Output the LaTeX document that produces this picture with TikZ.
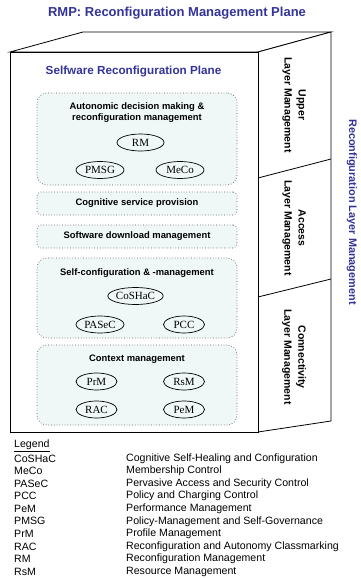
\documentclass[tikz,border=0pt]{standalone}
\usepackage{fontspec}
\setmainfont{Liberation Serif}
\setsansfont{Liberation Sans}
\usetikzlibrary{shapes.geometric}
\definecolor{rmpblue}{RGB}{51,51,153}
\definecolor{boxfill}{RGB}{239,247,247}

\begin{document}
\begin{tikzpicture}[x=1pt,y=-1pt]
  \tikzstyle{cube}=[draw,line width=0.8pt,fill=white]
  \tikzstyle{group}=[draw=black!65,dotted,line width=0.7pt,fill=boxfill,rounded corners=10pt,minimum width=200pt,inner sep=0pt]
  \tikzstyle{bar}=[group,rounded corners=4pt,minimum height=23pt,font=\sffamily\bfseries\fontsize{9.4}{11}\selectfont]
  \tikzstyle{grouptitle}=[align=center,inner sep=0pt,font=\sffamily\bfseries\fontsize{9.4}{11}\selectfont]
  \tikzstyle{module}=[ellipse,draw,line width=0.7pt,inner sep=0pt,minimum width=41pt,minimum height=17pt,font=\fontsize{11}{11}\selectfont]
  \tikzstyle{layer}=[rotate=-90,align=center,inner sep=0pt,font=\sffamily\bfseries\fontsize{10.5}{14}\selectfont]
  \tikzstyle{legend}=[anchor=west,inner sep=0pt,font=\sffamily\fontsize{10.6}{12}\selectfont]
  \useasboundingbox (0,0) rectangle (361,578);

  % the plane as a box
  \draw[cube] (10,52) -- (83,32) -- (331,32) -- (258,52) -- cycle;
  \draw[cube] (258,52) -- (331,32) -- (331,421) -- (258,432) -- cycle;
  \draw[cube] (10,52) rectangle (258,432);
  \draw[line width=0.8pt] (258,178) -- (331,159);
  \draw[line width=0.8pt] (258,297) -- (331,279);

  \node[text=rmpblue,font=\sffamily\bfseries\fontsize{13}{15}\selectfont] (rmp) at (177,13) {RMP: Reconfiguration Management Plane};
  \node[text=rmpblue,font=\sffamily\bfseries\fontsize{11.7}{14}\selectfont] (srp) at (133.5,72) {Selfware Reconfiguration Plane};

  % functional groups
  \node[group,minimum height=92pt] (adm) at (137,139) {};
  \node[grouptitle] (admtitle) at (137,112.5) {Autonomic decision making \&\\reconfiguration management};
  \node[module,minimum width=47pt] (rm) at (140.5,142.5) {RM};
  \node[module,minimum width=48pt] (pmsg) at (100,170) {PMSG};
  \node[module,minimum width=48pt] (meco) at (180,170) {MeCo};

  \node[bar] (csp) at (137,203.5) {Cognitive service provision};
  \node[bar] (sdm) at (137,236.5) {Software download management};

  \node[group,minimum height=80pt] (scm) at (137,298) {};
  \node[grouptitle] (scmtitle) at (137,273) {Self-configuration \& -management};
  \node[module,minimum width=55pt] (coshac) at (135.5,296) {CoSHaC};
  \node[module,minimum width=48pt] (pasec) at (100,324.5) {PASeC};
  \node[module] (pcc) at (184,324.5) {PCC};

  \node[group,minimum height=80pt] (cm) at (137,385) {};
  \node[grouptitle] (cmtitle) at (137,359) {Context management};
  \node[module] (prm) at (96.5,381.5) {PrM};
  \node[module] (rsm) at (184,381.5) {RsM};
  \node[module] (rac) at (96.5,409.5) {RAC};
  \node[module] (pem) at (184,409.5) {PeM};

  % layers on the side
  \node[layer] (upper) at (294,105) {Upper\\Layer Management};
  \node[layer] (access) at (294,228) {Access\\Layer Management};
  \node[layer] (conn) at (294,357) {Connectivity\\Layer Management};
  \node[rotate=-90,text=rmpblue,font=\sffamily\bfseries\fontsize{10.9}{13}\selectfont] (rlm) at (352,212) {Reconfiguration Layer Management};

  % legend
  \node[legend] (legend) at (14,446) {\underline{Legend}};
  \foreach \abbr/\full [count=\i] in {CoSHaC/Cognitive Self-Healing and Configuration,
      MeCo/Membership Control, PASeC/Pervasive Access and Security Control,
      PCC/Policy and Charging Control, PeM/Performance Management,
      PMSG/Policy-Management and Self-Governance, PrM/Profile Management,
      RAC/Reconfiguration and Autonomy Classmarking, RM/Reconfiguration Management,
      RsM/Resource Management} {
    \node[legend] (abbr\i) at (14,{446+12.55*\i}) {\abbr};
    \node[legend] (full\i) at (126,{446+12.55*\i}) {\full};
  }
\end{tikzpicture}
\end{document}
